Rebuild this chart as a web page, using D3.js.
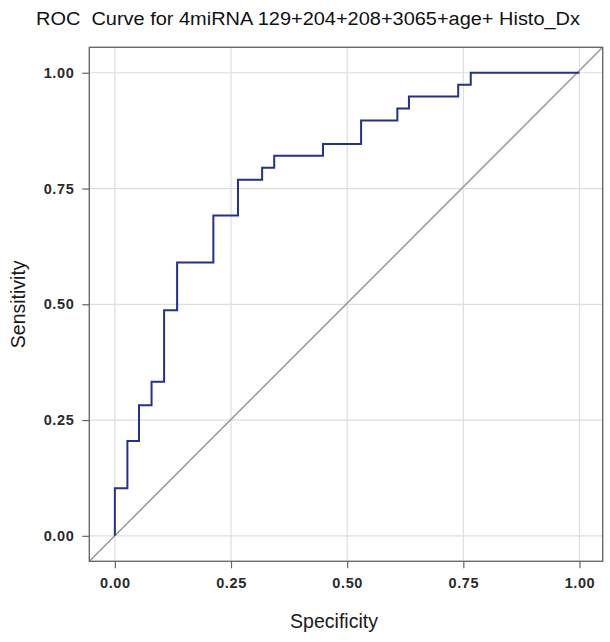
<!DOCTYPE html>
<html>
<head>
<meta charset="utf-8">
<script src="https://cdn.jsdelivr.net/npm/d3@7"></script>
<style>
  body { margin: 0; background: #fff; }
  svg { display: block; }
</style>
</head>
<body>
<svg id="chart"></svg>
<script>
//variable definition
var WIDTH = 610;
var HEIGHT = 642;
var PANEL = { left: 89.3, top: 47.3, right: 602.7, bottom: 561.3 };

var TITLE = "ROC  Curve for 4miRNA 129+204+208+3065+age+ Histo_Dx";
var X_LABEL = "Specificity";
var Y_LABEL = "Sensitivity";
var TICKS = [0, 0.25, 0.5, 0.75, 1];

// roc vertices
var fpr = [0, 0, 0.027, 0.052, 0.079, 0.106, 0.134, 0.212, 0.265, 0.317, 0.343, 0.448, 0.530, 0.608, 0.633, 0.739, 0.766, 1.0];
var tpr = [0, 0.103, 0.205, 0.282, 0.333, 0.487, 0.590, 0.692, 0.769, 0.795, 0.821, 0.846, 0.897, 0.923, 0.949, 0.974, 1.0, 1.0];

function main() {
    var svg = d3.select("#chart")
        .attr("width", WIDTH)
        .attr("height", HEIGHT);

    var xScale = d3.scaleLinear()
        .domain([-0.055, 1.05])
        .range([PANEL.left, PANEL.right]);
    var yScale = d3.scaleLinear()
        .domain([-0.055, 1.055])
        .range([PANEL.bottom, PANEL.top]);

    // gridlines
    svg.append("g")
        .selectAll("line.vg")
        .data(TICKS)
        .join("line")
        .attr("x1", d => xScale(d)).attr("x2", d => xScale(d))
        .attr("y1", PANEL.top).attr("y2", PANEL.bottom)
        .attr("stroke", "#dedede").attr("stroke-width", 1.2);
    svg.append("g")
        .selectAll("line.hg")
        .data(TICKS)
        .join("line")
        .attr("y1", d => yScale(d)).attr("y2", d => yScale(d))
        .attr("x1", PANEL.left).attr("x2", PANEL.right)
        .attr("stroke", "#dedede").attr("stroke-width", 1.2);

    // diagonal reference line, corner to corner
    svg.append("line")
        .attr("x1", xScale(xScale.domain()[0])).attr("y1", yScale(yScale.domain()[0]))
        .attr("x2", xScale(xScale.domain()[1])).attr("y2", yScale(yScale.domain()[1]))
        .attr("stroke", "#9c9c9c").attr("stroke-width", 1.6);

    // roc curve
    var pts = fpr.map((f, i) => ({ x: f, y: tpr[i] }));
    var line = d3.line()
        .x(d => xScale(d.x))
        .y(d => yScale(d.y))
        .curve(d3.curveStepAfter);
    svg.append("path")
        .datum(pts)
        .attr("fill", "none")
        .attr("stroke", "#22318c")
        .attr("stroke-width", 2)
        .attr("d", line);

    // axes
    var xAxis = d3.axisBottom(xScale)
        .tickValues(TICKS)
        .tickFormat(d3.format(".2f"))
        .tickSize(7)
        .tickPadding(9);
    var yAxis = d3.axisLeft(yScale)
        .tickValues(TICKS)
        .tickFormat(d3.format(".2f"))
        .tickSize(7)
        .tickPadding(8);

    var gx = svg.append("g")
        .attr("transform", `translate(0, ${PANEL.bottom})`)
        .call(xAxis);
    var gy = svg.append("g")
        .attr("transform", `translate(${PANEL.left}, 0)`)
        .call(yAxis);
    [gx, gy].forEach(g => {
        g.select(".domain").remove();
        g.selectAll(".tick line").attr("stroke", "#666").attr("stroke-width", 1.2);
        g.selectAll(".tick text")
            .attr("fill", "#2a2a2a")
            .style("font-family", "'Liberation Sans', Arial, sans-serif")
            .style("font-size", "14.5px")
            .style("font-weight", "bold")
            .style("letter-spacing", "0.6px");
    });

    // panel border
    svg.append("rect")
        .attr("x", PANEL.left).attr("y", PANEL.top)
        .attr("width", PANEL.right - PANEL.left)
        .attr("height", PANEL.bottom - PANEL.top)
        .attr("fill", "none")
        .attr("stroke", "#6a6a6a")
        .attr("stroke-width", 1.4);

    // texts
    svg.append("text")
        .attr("x", 36).attr("y", 25)
        .attr("textLength", 544)
        .attr("lengthAdjust", "spacingAndGlyphs")
        .style("white-space", "pre")
        .style("font-family", "'Liberation Sans', Arial, sans-serif")
        .style("font-size", "18px")
        .attr("fill", "#111")
        .text(TITLE);

    svg.append("text")
        .attr("x", 334).attr("y", 628)
        .attr("text-anchor", "middle")
        .style("font-family", "'Liberation Sans', Arial, sans-serif")
        .style("font-size", "19.5px")
        .attr("fill", "#1a1a1a")
        .text(X_LABEL);

    svg.append("text")
        .attr("transform", `translate(25, ${(PANEL.top + PANEL.bottom) / 2}) rotate(-90)`)
        .attr("text-anchor", "middle")
        .style("font-family", "'Liberation Sans', Arial, sans-serif")
        .style("font-size", "19.5px")
        .attr("fill", "#1a1a1a")
        .text(Y_LABEL);
}

main();
</script>
</body>
</html>
